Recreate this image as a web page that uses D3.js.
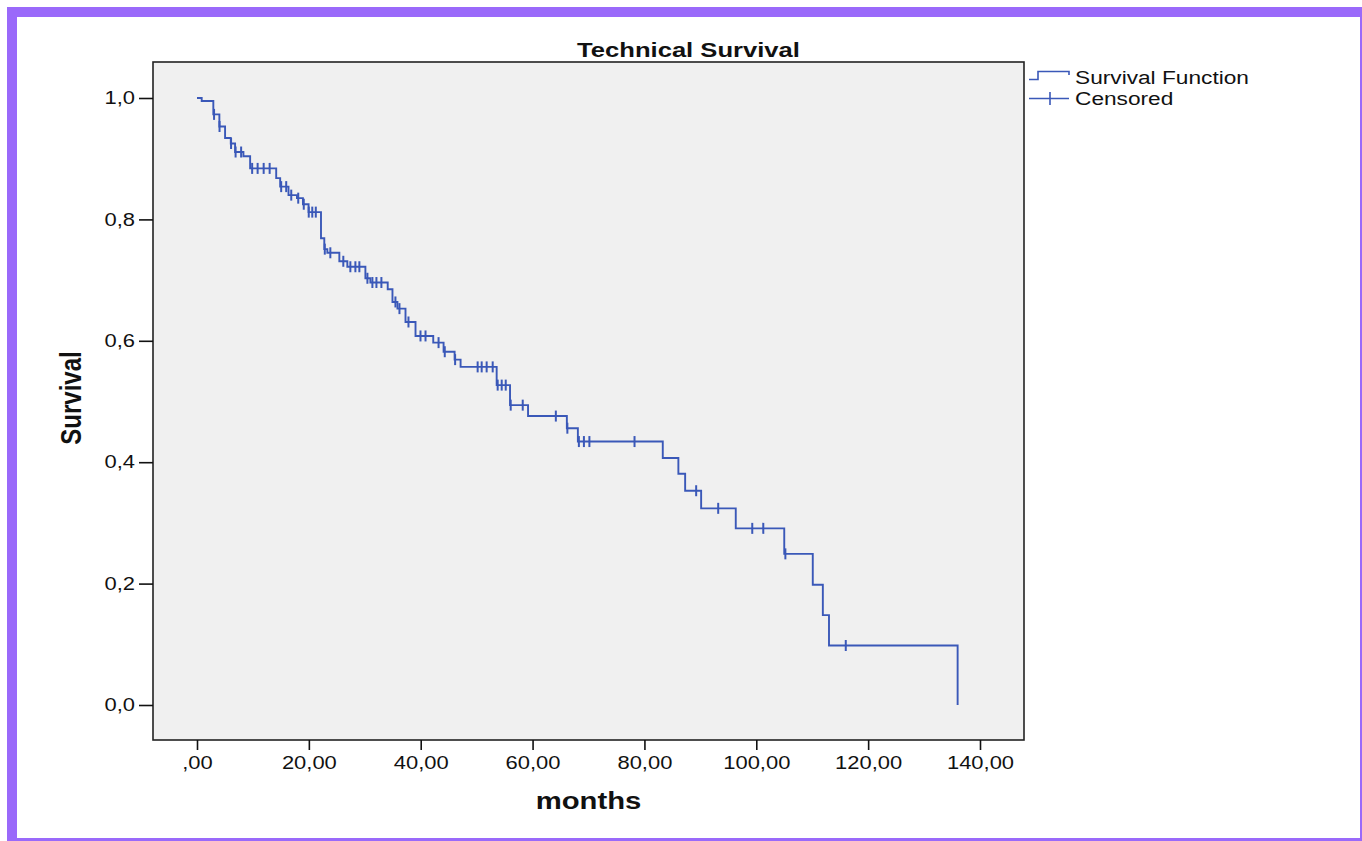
<!DOCTYPE html>
<html>
<head>
<meta charset="utf-8">
<title>Technical Survival</title>
<script src="https://cdn.jsdelivr.net/npm/d3@7"></script>
<style>
  html, body { margin: 0; padding: 0; background: #fff; }
  svg { display: block; }
  text { font-family: "Liberation Sans", Arial, sans-serif; fill: #111; }
</style>
</head>
<body>
<svg id="svg1" width="1362" height="841"></svg>
<script>
(function(){
    'use strict';

    // Kaplan-Meier steps: time of each drop (months) and survival after it
    const stepTimes = [0.84, 2.92, 4.00, 5.02, 6.04, 6.81, 8.30, 9.50,
        14.16, 14.87, 16.36, 17.87, 18.94, 19.95,
        22.17, 22.76, 23.30, 25.45, 26.88,
        30.11, 31.00, 34.10, 34.95, 35.84,
        37.28, 39.07, 42.24, 44.09, 46.06, 47.13,
        53.58, 55.97, 59.19, 66.13, 68.10,
        83.28, 86.07, 87.28, 90.14, 96.33,
        105.0, 110.1, 111.9, 113.0, 136.0];
    const stepSurv = [0.995, 0.973, 0.953, 0.934, 0.925, 0.911, 0.904, 0.884,
        0.868, 0.854, 0.840, 0.835, 0.825, 0.812,
        0.769, 0.751, 0.745, 0.731, 0.722,
        0.703, 0.696, 0.685, 0.664, 0.653,
        0.631, 0.608, 0.597, 0.582, 0.569, 0.557,
        0.527, 0.494, 0.476, 0.456, 0.434,
        0.407, 0.381, 0.353, 0.324, 0.291,
        0.249, 0.198, 0.148, 0.098, 0];

    // censored observations (months)
    const censorTimes = [3.05, 4.03, 6.09, 6.90, 7.89, 9.86, 10.84, 11.92, 12.99,
        15.05, 15.95, 16.85, 18.10, 19.09, 19.98, 20.61, 21.24, 22.85, 23.84,
        26.16, 27.42, 28.32, 29.03, 30.47, 31.36, 32.08, 32.97, 35.48, 36.20,
        37.81, 39.96, 40.86, 43.19, 44.30, 46.15, 50.18, 50.90, 51.79, 52.87,
        53.76, 54.48, 55.20, 56.09, 58.24, 64.16, 66.22, 68.28, 69.18, 70.16,
        78.23, 89.25, 93.19, 99.28, 101.25, 105.2, 116.0];

    const xTicks = [0, 20, 40, 60, 80, 100, 120, 140];
    const yTicks = [0, 0.2, 0.4, 0.6, 0.8, 1.0];
    const legendLabels = ['Survival Function', 'Censored'];

    const lineColor = '#3a58b8';
    const stretch = 1.22;   // the original image is stretched sideways

    const box = {left: 153, top: 62, right: 1024, bottom: 740};
    const pad = {left: 44, right: 44, top: 36, bottom: 35};

    const svg = d3.select('#svg1');

    // purple frame around the picture
    svg.append('rect')
        .attr('x', 12).attr('y', 12)
        .attr('width', 1353).attr('height', 831)
        .attr('fill', '#fff')
        .attr('stroke', '#9a69fa')
        .attr('stroke-width', 10);

    const x = d3.scaleLinear()
        .domain([0, 140])
        .range([box.left + pad.left, box.right - pad.right]);

    const y = d3.scaleLinear()
        .domain([0, 1])
        .range([box.bottom - pad.bottom, box.top + pad.top]);

    // plot area
    svg.append('rect')
        .attr('x', box.left).attr('y', box.top)
        .attr('width', box.right - box.left)
        .attr('height', box.bottom - box.top)
        .attr('fill', '#f0f0f0')
        .attr('stroke', '#222')
        .attr('stroke-width', 1.6);

    function xAxis(g){
        g.attr('transform', `translate(0, ${box.bottom})`)
            .call(d3.axisBottom(x).tickValues(xTicks).tickSize(10).tickPadding(6)
                .tickFormat(d => d === 0 ? ',00' : d + ',00'));
        g.select('.domain').remove();
        g.attr('font-size', 18);
        g.selectAll('line').attr('stroke', '#111').attr('stroke-width', 1.6);
        g.selectAll('text').attr('transform', `scale(${stretch},1)`);
    }

    function yAxis(g){
        g.attr('transform', `translate(${box.left}, 0)`)
            .call(d3.axisLeft(y).tickValues(yTicks).tickSize(14).tickPadding(4)
                .tickFormat(d => d.toFixed(1).replace('.', ',')));
        g.select('.domain').remove();
        g.attr('font-size', 18);
        g.selectAll('line').attr('stroke', '#111').attr('stroke-width', 1.6);
        g.selectAll('text')
            .attr('x', -18 / stretch)
            .attr('transform', `scale(${stretch},1)`);
    }

    svg.append('g').call(xAxis);
    svg.append('g').call(yAxis);

    // survival curve
    const points = [[0, 1]].concat(stepTimes.map((t, i) => [t, stepSurv[i]]));
    const line = d3.line()
        .x(d => x(d[0]))
        .y(d => y(d[1]))
        .curve(d3.curveStepAfter);

    svg.append('path')
        .datum(points)
        .attr('fill', 'none')
        .attr('stroke', lineColor)
        .attr('stroke-width', 1.9)
        .attr('d', line);

    const survAt = (t) => {
        const i = d3.bisectRight(stepTimes, t) - 1;
        return i < 0 ? 1 : stepSurv[i];
    };

    svg.append('g')
        .attr('stroke', lineColor)
        .attr('stroke-width', 2)
        .selectAll('line')
        .data(censorTimes)
        .enter()
        .append('line')
            .attr('x1', d => x(d))
            .attr('x2', d => x(d))
            .attr('y1', d => y(survAt(d)) - 5.5)
            .attr('y2', d => y(survAt(d)) + 5.5);

    // titles
    svg.append('text')
        .attr('transform', `translate(688.5, 57) scale(${stretch},1)`)
        .attr('text-anchor', 'middle')
        .attr('font-size', 21)
        .attr('font-weight', 'bold')
        .text('Technical Survival');

    svg.append('text')
        .attr('transform', `translate(${(box.left + box.right) / 2}, 809) scale(${stretch},1)`)
        .attr('text-anchor', 'middle')
        .attr('font-size', 24)
        .attr('font-weight', 'bold')
        .text('months');

    svg.append('text')
        .attr('transform', `translate(81, 398) scale(${stretch},1) rotate(-90)`)
        .attr('text-anchor', 'middle')
        .attr('font-size', 24)
        .attr('font-weight', 'bold')
        .text('Survival');

    // legend
    const legend = svg.append('g').attr('transform', 'translate(1029, 0)');
    legend.append('path')
        .attr('fill', 'none')
        .attr('stroke', lineColor)
        .attr('stroke-width', 1.6)
        .attr('d', 'M0,79.5H9V71.5H40V75');
    legend.append('path')
        .attr('fill', 'none')
        .attr('stroke', lineColor)
        .attr('stroke-width', 1.6)
        .attr('d', 'M0,98.5H40M21,92V105');
    legend.selectAll('text')
        .data(legendLabels)
        .enter()
        .append('text')
            .attr('transform', (d, i) => `translate(46, ${84 + i * 21}) scale(${stretch},1)`)
            .attr('font-size', 18.6)
            .text(d => d);
})();
</script>
</body>
</html>
